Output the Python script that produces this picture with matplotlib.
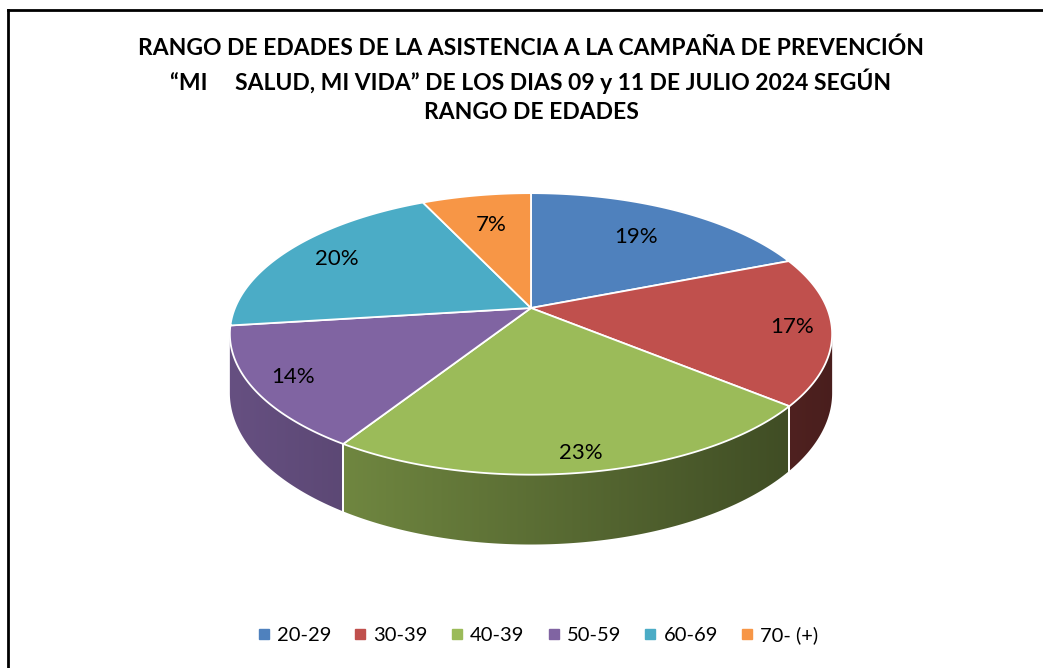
import numpy as np
import matplotlib.pyplot as plt
from matplotlib.lines import Line2D
from matplotlib.colors import to_rgb

# datos
rangos = ["20-29", "30-39", "40-39", "50-59", "60-69", "70- (+)"]
porcentajes = [19, 17, 23, 14, 20, 7]
colores = ["#4f81bd", "#c0504d", "#9bbb59", "#8064a2", "#4bacc6", "#f79646"]
titulo = ("RANGO DE EDADES DE LA ASISTENCIA A LA CAMPAÑA DE PREVENCIÓN\n"
          "\u201cMI     SALUD, MI VIDA\u201d DE LOS DIAS 09 y 11 DE JULIO 2024 SEGÚN\n"
          "RANGO DE EDADES")

# geometria del pastel 3D (pixeles)
CX, CY = 531, 308
A, B = 296, 136
K = 0.184
PROF = 57
label_r = [0.70, 0.87, 0.90, 0.87, 0.80, 0.70]

plt.rcParams['font.family'] = ['Lato', 'DejaVu Sans']

fig = plt.figure(figsize=(10.43, 6.68), dpi=100)
ax = fig.add_axes([0, 0, 1, 1])
ax.set_xlim(0, 1043)
ax.set_ylim(668, 0)
ax.axis('off')


def proj(phi, r=1.0, bajar=0.0):
    X = r * np.cos(phi)
    Y = r * np.sin(phi)
    w = 1 + K * Y
    return CX + A * X / w, CY - B * Y / w + bajar / w


total = float(sum(porcentajes))
angs = [np.pi / 2]
for p in porcentajes:
    angs.append(angs[-1] - 2 * np.pi * p / total)

# gradiente horizontal para los lados
x0, x1 = CX - 305, CX + 305
gx = np.linspace(x0, x1, 400)
fac = 0.8 - 0.42 * (gx - x0) / (x1 - x0)

vis_ini = -np.arcsin(K)
vis_fin = -np.pi + np.arcsin(K)
for i in range(len(porcentajes)):
    a0, a1 = angs[i], angs[i + 1]
    for off in (0, 2 * np.pi, -2 * np.pi):
        s0 = min(a0 + off, vis_ini)
        s1 = max(a1 + off, vis_fin)
        if s0 <= s1:
            continue
        t = np.linspace(s0, s1, 200)
        xt, yt = proj(t)
        xb, yb = proj(t[::-1], bajar=PROF)
        pts = list(zip(xt, yt)) + list(zip(xb, yb))
        poly = plt.Polygon(pts, closed=True, facecolor='none', edgecolor='none')
        ax.add_patch(poly)
        base = np.array(to_rgb(colores[i]))
        img = fac[None, :, None] * base[None, None, :]
        im = ax.imshow(img, extent=(x0, x1, 560, 200), aspect='auto',
                       interpolation='bilinear', zorder=1)
        im.set_clip_path(poly)
        for s in (s0, s1):
            if vis_fin < s < vis_ini:
                xa, ya = proj(s)
                xc, yc = proj(s, bajar=PROF)
                ax.plot([xa, xc], [ya, yc], color='white', lw=1.3, zorder=2)

# caras superiores
for i in range(len(porcentajes)):
    t = np.linspace(angs[i], angs[i + 1], 200)
    xs, ys = proj(t)
    pts = [(CX, CY)] + list(zip(xs, ys))
    ax.add_patch(plt.Polygon(pts, closed=True, facecolor=colores[i],
                             edgecolor='white', lw=1.3, joinstyle='round', zorder=3))
    mid = (angs[i] + angs[i + 1]) / 2
    lx, ly = proj(mid, r=label_r[i])
    ax.text(lx, ly, "%d%%" % porcentajes[i], ha='center', va='center',
            fontsize=16, color='black', zorder=4)

ax.text(531, 80, titulo, ha='center', va='center', fontsize=16.5,
        fontweight='bold', linespacing=1.45)

# marco
ax.plot([8, 8], [10, 700], color='black', lw=2, solid_capstyle='projecting')
ax.plot([8, 1100], [10, 10], color='black', lw=2, solid_capstyle='projecting')

handles = [Line2D([], [], marker='s', linestyle='none', markersize=7,
                  markerfacecolor=c, markeredgecolor=c) for c in colores]
fig.legend(handles, rangos, loc='center', bbox_to_anchor=(537 / 1043, 1 - 635 / 668),
           ncol=6, frameon=False, fontsize=14.5, handletextpad=0.25,
           columnspacing=1.05, handlelength=0.8)

fig.savefig("out.png", dpi=100)
